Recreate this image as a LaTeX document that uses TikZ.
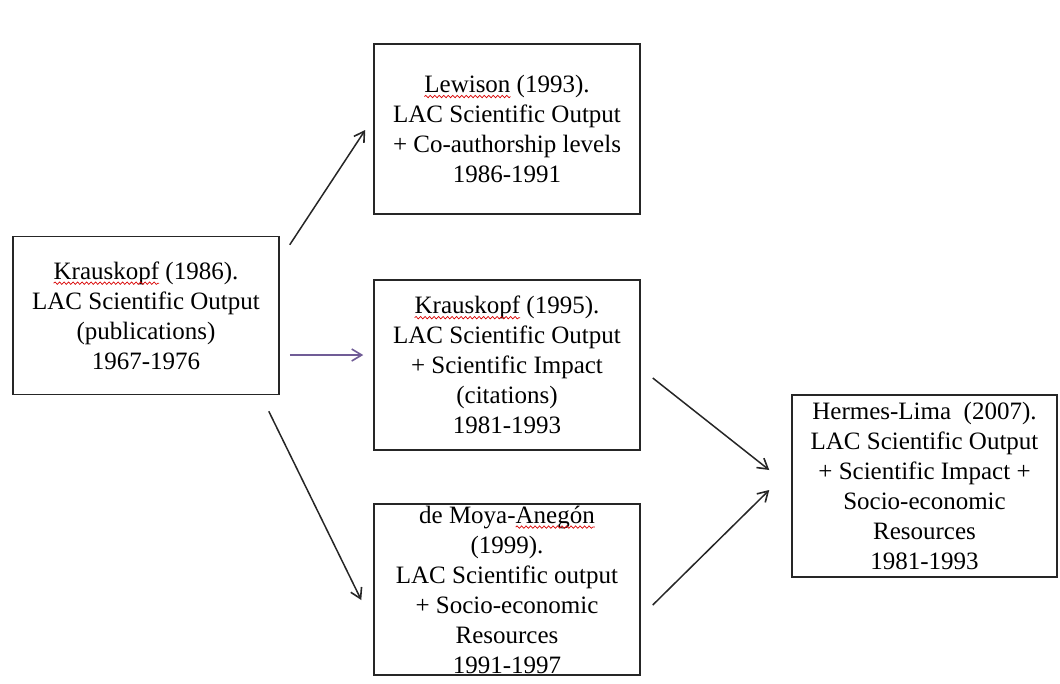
\documentclass[tikz,border=0pt]{standalone}
\usepackage{fontspec}
\setmainfont{Liberation Serif}
\usetikzlibrary{arrows.meta,calc,decorations.pathmorphing}

% word with a red wavy underline
\newsavebox\spellbox
\newlength\spellw
\newcommand\spellmark[1]{%
  \sbox\spellbox{#1}\setlength\spellw{\wd\spellbox}%
  \usebox\spellbox%
  \tikz[overlay,baseline=0pt]\draw[red!85!black,line width=0.7pt,decorate,
    decoration={snake,amplitude=1.2pt,segment length=4.5pt}]
    (-\spellw,-4pt) -- (0pt,-4pt);}

\begin{document}
\begin{tikzpicture}[x=1pt,y=-1pt,
  box/.style={draw=black!85,line width=1.5pt,fill=white,minimum width=266pt,
    inner sep=0pt,align=center,text=black,
    font=\fontsize{25}{30}\selectfont},
  conn/.style={-{Straight Barb[length=10pt,width=12pt,line width=1.6pt]},line width=1.5pt,black!85},
  connp/.style={conn,draw={rgb,255:red,112;green,92;blue,150}}]
\useasboundingbox (0,0) rectangle (1060,683);

\node[box,minimum height=158pt] (A) at (146,315.5)
  {\spellmark{Krauskopf} (1986).\\LAC Scientific Output\\(publications)\\1967-1976};
\node[box,minimum height=170pt] (B) at (507,129)
  {\spellmark{Lewison} (1993).\\LAC Scientific Output\\+ Co-authorship levels\\1986-1991};
\node[box,minimum height=170pt] (C) at (507,365)
  {\spellmark{Krauskopf} (1995).\\LAC Scientific Output\\+ Scientific Impact\\(citations)\\1981-1993};
\node[box,minimum height=171pt] (D) at (507,589.5)
  {de Moya-\spellmark{Anegón}\\(1999).\\LAC Scientific output\\+ Socio-economic\\Resources\\1991-1997};
\node[box,minimum width=265pt,minimum height=182pt] (E) at (924.5,486)
  {Hermes-Lima\ \ (2007).\\LAC Scientific Output\\+ Scientific Impact +\\Socio-economic\\Resources\\1981-1993};

% free ends of the connectors, placed beside the boxes
\coordinate (ab1) at ($(A.north east)+(10,9)$);
\coordinate (ab2) at ($(B.west)+(-8,1)$);
\coordinate (ac1) at ($(A.east)+(10,39.5)$);
\coordinate (ac2) at ($(C.west)+(-10,-10)$);
\coordinate (ad1) at ($(A.south east)+(-11,16)$);
\coordinate (ad2) at ($(D.west)+(-12,10.5)$);
\coordinate (ce1) at ($(C.east)+(12,13)$);
\coordinate (ce2) at ($(E.west)+(-22,-16)$);
\coordinate (de1) at ($(D.east)+(12,15.5)$);
\coordinate (de2) at ($(E.west)+(-22,4)$);

\draw[conn] (ab1) -- (ab2);
\draw[connp] (ac1) -- (ac2);
\draw[conn] (ad1) -- (ad2);
\draw[conn] (ce1) -- (ce2);
\draw[conn] (de1) -- (de2);
\end{tikzpicture}
\end{document}
